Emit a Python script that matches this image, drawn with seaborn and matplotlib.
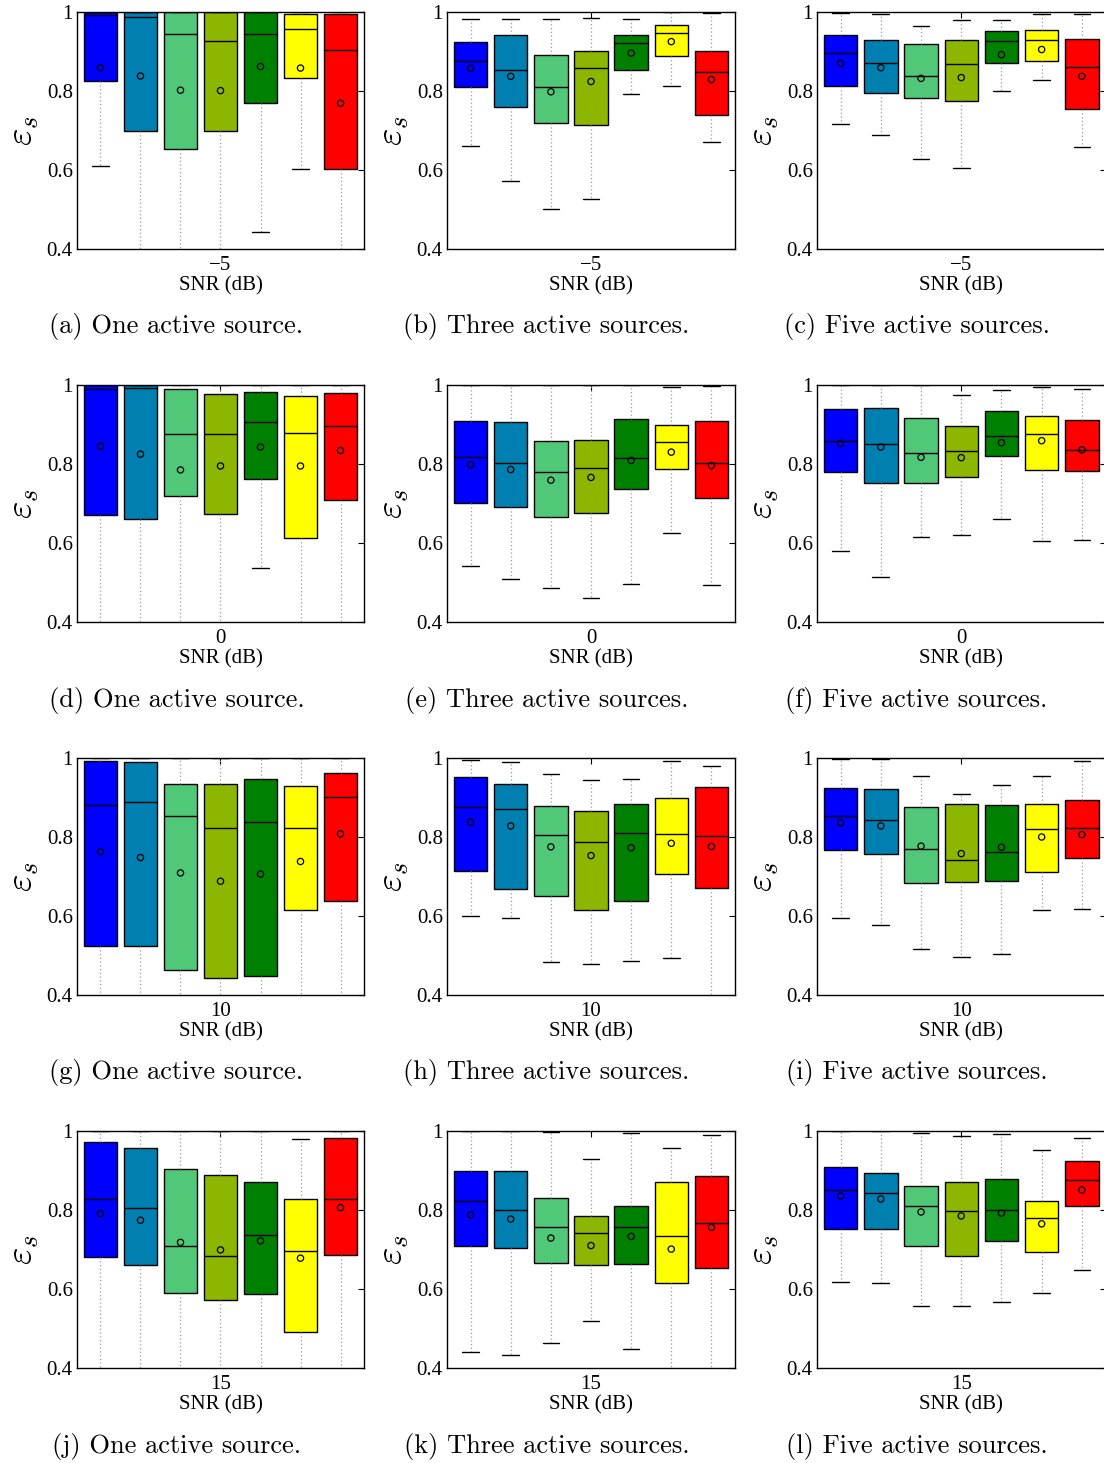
import numpy as np
import pandas as pd
import matplotlib
matplotlib.use("Agg")
import matplotlib.pyplot as plt
import seaborn as sns

# ---------------- data ----------------
METHODS = ["M1", "M2", "M3", "M4", "M5", "M6", "M7"]
COLORS = ["#0000FF", "#0080B0", "#50C878", "#8DB600", "#008000", "#FFFF00", "#FF0000"]
SNR_LABELS = ["\u22125", "0", "10", "15"]
CAPTIONS = ["One active source.", "Three active sources.", "Five active sources."]
LETTERS = list("abcdefghijkl")

# panels a..l, 7 methods each (values below 0.4 are off-axis whisker ends)
Q1 = [
    [0.826, 0.699, 0.654, 0.699, 0.769, 0.833, 0.602],
    [0.809, 0.760, 0.720, 0.715, 0.854, 0.889, 0.740],
    [0.812, 0.795, 0.783, 0.774, 0.872, 0.875, 0.755],
    [0.670, 0.661, 0.720, 0.673, 0.763, 0.612, 0.708],
    [0.701, 0.692, 0.665, 0.675, 0.736, 0.788, 0.715],
    [0.779, 0.753, 0.753, 0.766, 0.819, 0.785, 0.783],
    [0.525, 0.524, 0.463, 0.442, 0.449, 0.616, 0.638],
    [0.715, 0.668, 0.650, 0.615, 0.637, 0.707, 0.672],
    [0.766, 0.757, 0.684, 0.686, 0.689, 0.712, 0.746],
    [0.682, 0.661, 0.590, 0.572, 0.587, 0.492, 0.685],
    [0.709, 0.705, 0.665, 0.660, 0.664, 0.614, 0.652],
    [0.752, 0.752, 0.709, 0.684, 0.722, 0.694, 0.810],
]
MED = [
    [0.992, 0.987, 0.945, 0.926, 0.945, 0.958, 0.905],
    [0.877, 0.852, 0.810, 0.859, 0.922, 0.948, 0.847],
    [0.895, 0.872, 0.837, 0.869, 0.927, 0.928, 0.861],
    [0.989, 0.993, 0.877, 0.875, 0.907, 0.878, 0.895],
    [0.817, 0.803, 0.781, 0.790, 0.815, 0.855, 0.803],
    [0.858, 0.850, 0.827, 0.834, 0.870, 0.875, 0.836],
    [0.880, 0.889, 0.854, 0.822, 0.839, 0.822, 0.902],
    [0.877, 0.872, 0.806, 0.787, 0.811, 0.807, 0.803],
    [0.854, 0.842, 0.769, 0.741, 0.761, 0.819, 0.822],
    [0.827, 0.806, 0.708, 0.683, 0.737, 0.695, 0.829],
    [0.824, 0.800, 0.758, 0.742, 0.756, 0.735, 0.768],
    [0.851, 0.843, 0.810, 0.798, 0.800, 0.780, 0.876],
]
Q3 = [
    [1.000, 1.000, 1.000, 1.000, 1.000, 0.996, 0.994],
    [0.925, 0.942, 0.892, 0.902, 0.943, 0.968, 0.902],
    [0.942, 0.930, 0.920, 0.930, 0.953, 0.954, 0.932],
    [1.000, 1.000, 0.991, 0.978, 0.982, 0.972, 0.981],
    [0.909, 0.906, 0.857, 0.862, 0.913, 0.899, 0.910],
    [0.939, 0.942, 0.916, 0.895, 0.934, 0.922, 0.911],
    [0.992, 0.991, 0.934, 0.933, 0.948, 0.928, 0.961],
    [0.953, 0.935, 0.878, 0.866, 0.884, 0.899, 0.927],
    [0.923, 0.921, 0.877, 0.883, 0.881, 0.884, 0.894],
    [0.971, 0.957, 0.903, 0.888, 0.872, 0.827, 0.983],
    [0.900, 0.900, 0.831, 0.785, 0.810, 0.870, 0.886],
    [0.909, 0.894, 0.861, 0.871, 0.878, 0.823, 0.924],
]
LO = [
    [0.609, 0.300, 0.300, 0.300, 0.443, 0.602, 0.300],
    [0.662, 0.572, 0.502, 0.526, 0.793, 0.813, 0.670],
    [0.716, 0.689, 0.628, 0.604, 0.800, 0.827, 0.657],
    [0.300, 0.300, 0.300, 0.300, 0.537, 0.300, 0.300],
    [0.541, 0.510, 0.487, 0.461, 0.497, 0.625, 0.493],
    [0.580, 0.514, 0.614, 0.621, 0.660, 0.606, 0.607],
    [0.300, 0.300, 0.300, 0.300, 0.300, 0.300, 0.300],
    [0.601, 0.594, 0.484, 0.479, 0.486, 0.494, 0.300],
    [0.594, 0.576, 0.517, 0.495, 0.503, 0.616, 0.617],
    [0.300, 0.300, 0.300, 0.300, 0.300, 0.300, 0.300],
    [0.440, 0.433, 0.464, 0.519, 0.447, 0.300, 0.300],
    [0.618, 0.615, 0.557, 0.557, 0.567, 0.590, 0.648],
]
HI = [
    [1.000, 1.000, 1.000, 1.000, 1.000, 1.000, 1.000],
    [0.983, 0.983, 0.983, 0.985, 0.983, 1.000, 0.997],
    [0.998, 0.996, 0.965, 0.979, 0.979, 0.996, 0.996],
    [1.000, 1.000, 1.000, 1.000, 1.000, 1.000, 1.000],
    [1.000, 1.000, 1.000, 1.000, 1.000, 0.994, 0.998],
    [1.000, 1.000, 1.000, 0.975, 0.988, 0.994, 0.991],
    [1.000, 1.000, 1.000, 1.000, 1.000, 1.000, 1.000],
    [0.994, 0.991, 0.960, 0.944, 0.947, 0.993, 0.979],
    [0.998, 0.998, 0.955, 0.910, 0.932, 0.955, 0.992],
    [1.000, 1.000, 1.000, 1.000, 1.000, 0.980, 1.000],
    [1.000, 1.000, 0.998, 0.928, 0.996, 0.956, 0.991],
    [1.000, 1.000, 0.995, 0.987, 0.992, 0.952, 0.982],
]
MEAN = [
    [0.859, 0.838, 0.802, 0.801, 0.862, 0.858, 0.769],
    [0.857, 0.837, 0.798, 0.824, 0.896, 0.925, 0.829],
    [0.870, 0.859, 0.832, 0.834, 0.892, 0.905, 0.837],
    [0.845, 0.825, 0.785, 0.795, 0.843, 0.795, 0.834],
    [0.798, 0.786, 0.759, 0.766, 0.809, 0.830, 0.796],
    [0.852, 0.843, 0.817, 0.816, 0.854, 0.859, 0.836],
    [0.763, 0.748, 0.709, 0.688, 0.706, 0.738, 0.808],
    [0.838, 0.828, 0.775, 0.753, 0.773, 0.784, 0.776],
    [0.836, 0.828, 0.777, 0.758, 0.774, 0.800, 0.806],
    [0.791, 0.774, 0.718, 0.699, 0.722, 0.678, 0.806],
    [0.788, 0.777, 0.729, 0.710, 0.733, 0.701, 0.756],
    [0.835, 0.828, 0.795, 0.785, 0.792, 0.765, 0.851],
]
Y_TICKS = [0.4, 0.6, 0.8, 1.0]
Y_TICKLABELS = ["0.4", "0.6", "0.8", "1"]

# ---------------- style ----------------
sns.set_theme(style="white")
plt.rcParams["font.family"] = ["Liberation Serif", "DejaVu Serif"]
plt.rcParams["mathtext.fontset"] = "cm"
plt.rcParams["axes.unicode_minus"] = True
for key in ["text.color", "axes.labelcolor", "xtick.color", "ytick.color", "axes.edgecolor"]:
    plt.rcParams[key] = "black"

W, H = 1104, 1463
fig = plt.figure(figsize=(W / 100, H / 100), dpi=100)
col_left = [77, 447, 817]
col_width = [287, 288, 288.5]
row_top = [12, 385, 758, 1131]
ah = 237

for p in range(12):
    r, c = divmod(p, 3)
    aw = col_width[c]
    ax = fig.add_axes([col_left[c] / W, 1 - (row_top[r] + ah) / H, aw / W, ah / H])
    rows = []
    for m in range(7):
        for v in (LO[p][m], Q1[p][m], MED[p][m], Q3[p][m], HI[p][m]):
            rows.append((SNR_LABELS[r], METHODS[m], v))
    df = pd.DataFrame(rows, columns=["snr", "method", "value"])
    sns.boxplot(
        data=df, x="snr", y="value", hue="method", hue_order=METHODS,
        palette=COLORS, saturation=1, whis=(0, 100), showfliers=False,
        width=0.8, gap=0.17, linewidth=1.0, linecolor="black",
        whiskerprops=dict(color="#9a9a9a", linestyle=(0, (1, 2)), linewidth=0.9),
        capprops=dict(color="black", linewidth=1.0),
        medianprops=dict(color="black", linewidth=1.0),
        legend=False, ax=ax,
    )
    mdf = pd.DataFrame({"snr": SNR_LABELS[r], "method": METHODS, "mean": MEAN[p]})
    sns.stripplot(
        data=mdf, x="snr", y="mean", hue="method", hue_order=METHODS,
        palette=COLORS, dodge=True, jitter=False, size=4.5, linewidth=0.9,
        edgecolor="black", legend=False, ax=ax,
    )
    for coll in ax.collections:
        coll.set_facecolor("none")
        coll.set_zorder(5)

    ax.set_xlim(-0.41, 0.41)
    ax.set_ylim(0.4, 1.0)
    ax.set_yticks(Y_TICKS)
    ax.set_yticklabels(Y_TICKLABELS)
    ax.tick_params(direction="in", top=True, right=True, length=4, width=0.8,
                   labelsize=15, pad=3, colors="black")
    ax.tick_params(axis="x", pad=5)
    for s in ax.spines.values():
        s.set_color("black")
        s.set_linewidth(1.0)
    ax.set_xlabel("SNR (dB)", fontsize=15, labelpad=1)
    ax.set_ylabel(r"$\varepsilon_s$", fontsize=27)
    ax.yaxis.set_label_coords(-0.125, 0.5)

    cx = (col_left[c] + 287 / 2 - 44) / W
    cy = 1 - (327 + 373 * r) / H
    fig.text(cx, cy, f"({LETTERS[p]}) {CAPTIONS[c]}", family="cmr10",
             fontsize=19, ha="center", va="center", color="black")

fig.savefig("out.png", dpi=100)
